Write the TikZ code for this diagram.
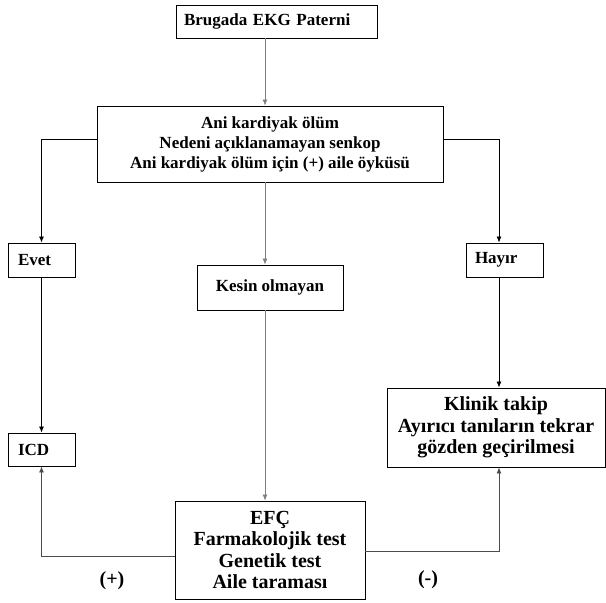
\documentclass[tikz,border=0pt]{standalone}
\usepackage{fontspec}
\setmainfont{Liberation Serif}
\usetikzlibrary{arrows.meta}

\tikzset{
  box/.style={draw, line width=0.9pt, align=center, inner sep=2pt,
    font=\fontsize{17}{20}\selectfont\bfseries},
  bigbox/.style={box, font=\fontsize{20}{21.5}\selectfont\bfseries},
  leftbox/.style={box, align=left, inner xsep=#1},
  darkline/.style={->, line width=0.8pt, black},
  greyline/.style={->, line width=0.8pt, black!50},
  midline/.style={->, line width=0.8pt, black!70},
}

\begin{document}
\begin{tikzpicture}[x=1pt,y=-1pt,>={Latex[length=6pt,width=5pt]}]

    \useasboundingbox (0,0) rectangle (606,603);

    % boxes
    \node[leftbox=8pt, text width=185pt, minimum height=33pt] (ekg) at (276.5,21.5) {Brugada EKG Paterni};
    \node[box, minimum width=346pt, minimum height=76pt] (ani) at (270,144)
        {Ani kardiyak ölüm\\ Nedeni açıklanamayan senkop\\ Ani kardiyak ölüm için (+) aile öyküsü};
    \node[leftbox=10pt, text width=47pt, minimum height=34pt] (evet) at (41.5,260) {Evet};
    \node[box, minimum width=146pt, minimum height=45pt] (kesin) at (270,287.5) {Kesin olmayan};
    \node[leftbox=9pt, text width=59pt, minimum height=34pt] (hayir) at (504.5,260) {Hayır};
    \node[leftbox=10pt, text width=47pt, minimum height=33pt] (icd) at (41.5,449.5) {ICD};
    \node[bigbox, minimum width=218pt, minimum height=79pt] (klinik) at (496,427.5)
        {Klinik takip\\ Ayırıcı tanıların tekrar\\ gözden geçirilmesi};
    \node[bigbox, minimum width=190pt, minimum height=98pt] (efc) at (270,550)
        {EFÇ\\ Farmakolojik test\\ Genetik test\\ Aile taraması};

    % labels
    \node[font=\fontsize{20}{22}\selectfont\bfseries] (plus) at (112,581) {(+)};
    \node[font=\fontsize{20}{22}\selectfont\bfseries] (minus) at (428,580) {(-)};

    % connectors
    \draw[greyline] ([xshift=-11.5pt]ekg.south) -- ([xshift=-5pt]ani.north);
    \draw[darkline] ([yshift=5pt]ani.west) -| (evet.north);
    \draw[darkline] ([yshift=5pt]ani.east) -| ([xshift=-5.5pt]hayir.north);
    \draw[greyline] ([xshift=-5pt]ani.south) -- ([xshift=-5pt]kesin.north);
    \draw[greyline] ([xshift=-5pt]kesin.south) -- ([xshift=-5pt]efc.north);
    \draw[darkline] (evet.south) -- (icd.north);
    \draw[darkline] ([xshift=-5.5pt]hayir.south) -- ([xshift=-5.5pt]hayir.south |- klinik.north);
    \draw[midline] ([yshift=-6pt]efc.west) -| (icd.south);
    \draw[midline] ([yshift=-1pt]efc.east) -| ([xshift=3pt]klinik.south);

\end{tikzpicture}
\end{document}
